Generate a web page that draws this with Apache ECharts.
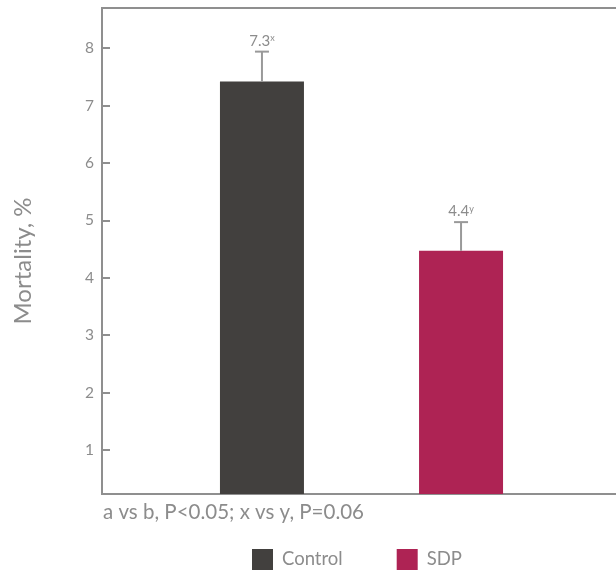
<!DOCTYPE html>
<html>
<head>
<meta charset="utf-8">
<script src="https://cdn.jsdelivr.net/npm/echarts@6/dist/echarts.min.js"></script>
<style>
  html, body { margin: 0; padding: 0; background: #fff; }
  #chart { width: 616px; height: 571px; }
</style>
</head>
<body>
<div id="chart"></div>
<script>
const groups = ["Control", "SDP"];
const means = [7.42, 4.47];
const upper = [7.94, 4.97];
const valueLabels = ["7.3", "4.4"];
const marks = ["x", "y"];
const colors = ["#42403e", "#ae2354"];
const footnote = "a vs b, P<0.05; x vs y, P=0.06";

const grey = "#8c8c8c";
const font = "Lato";
const BAR_W = 84;
const BAR_GAP = "137%";

const chart = echarts.init(document.getElementById("chart"));

const barSeries = groups.map((name, i) => ({
  name,
  type: "bar",
  data: [means[i]],
  barWidth: BAR_W,
  barGap: BAR_GAP,
  itemStyle: { color: colors[i] },
  z: 2,
}));

const errData = groups.map((_, i) => [0, upper[i], means[i], i]);

chart.setOption({
  animation: false,
  textStyle: { fontFamily: font },
  title: {
    text: footnote,
    left: 98,
    top: 497,
    textStyle: { fontFamily: font, fontSize: 20.5, fontWeight: "normal", color: grey },
  },
  legend: {
    left: 247,
    top: 544,
    icon: "rect",
    itemWidth: 21,
    itemHeight: 21,
    itemGap: 54,
    data: groups,
    textStyle: { fontFamily: font, fontSize: 18.5, color: grey, padding: [0, 0, 0, 4] },
  },
  grid: {
    left: 102,
    right: -5,
    top: 8,
    bottom: 77,
    outerBoundsMode: "none",
    show: true,
    borderColor: "#8f8f8f",
    borderWidth: 2,
  },
  xAxis: {
    type: "category",
    data: [""],
    axisLine: { lineStyle: { color: "#8f8f8f", width: 2 } },
    axisTick: { show: false },
    axisLabel: { show: false },
  },
  yAxis: {
    type: "value",
    min: 0.234,
    max: 8.7,
    minInterval: 1,
    maxInterval: 1,
    name: "Mortality, %",
    nameLocation: "middle",
    nameGap: 67,
    nameTextStyle: { fontFamily: font, fontSize: 24, color: grey, padding: [0, 20, 0, 0] },
    axisLine: { show: true, lineStyle: { color: "#8f8f8f", width: 2 } },
    axisTick: { show: true, inside: true, length: 8, lineStyle: { color: "#8f8f8f", width: 2 } },
    axisLabel: {
      showMinLabel: false,
      showMaxLabel: false,
      margin: 8,
      fontFamily: font,
      fontSize: 15.5,
      color: grey,
      formatter: (v) => (Number.isInteger(v) ? String(v) : ""),
    },
    splitLine: { show: false },
  },
  series: [
    ...barSeries,
    {
      type: "custom",
      data: errData,
      z: 3,
      renderItem(params, api) {
        const idx = api.value(3);
        const layout = api.barLayout({ count: groups.length, barWidth: BAR_W, barGap: BAR_GAP });
        const top = api.coord([0, api.value(1)]);
        const base = api.coord([0, api.value(2)]);
        const x = top[0] + layout[idx].offsetCenter;
        const style = { stroke: "#999", lineWidth: 2 };
        return {
          type: "group",
          children: [
            { type: "line", shape: { x1: x, y1: top[1], x2: x, y2: base[1] }, style },
            { type: "line", shape: { x1: x - 7, y1: top[1], x2: x + 7, y2: top[1] }, style },
            {
              type: "text",
              x: x,
              y: top[1] - 3,
              style: {
                text: "{v|" + valueLabels[idx] + "}{s|" + marks[idx] + "}",
                align: "center",
                verticalAlign: "bottom",
                rich: {
                  v: { fontFamily: font, fontSize: 15, fill: grey },
                  s: { fontFamily: font, fontSize: 9, fill: grey, verticalAlign: "top" },
                },
              },
            },
          ],
        };
      },
    },
  ],
});
</script>
</body>
</html>
